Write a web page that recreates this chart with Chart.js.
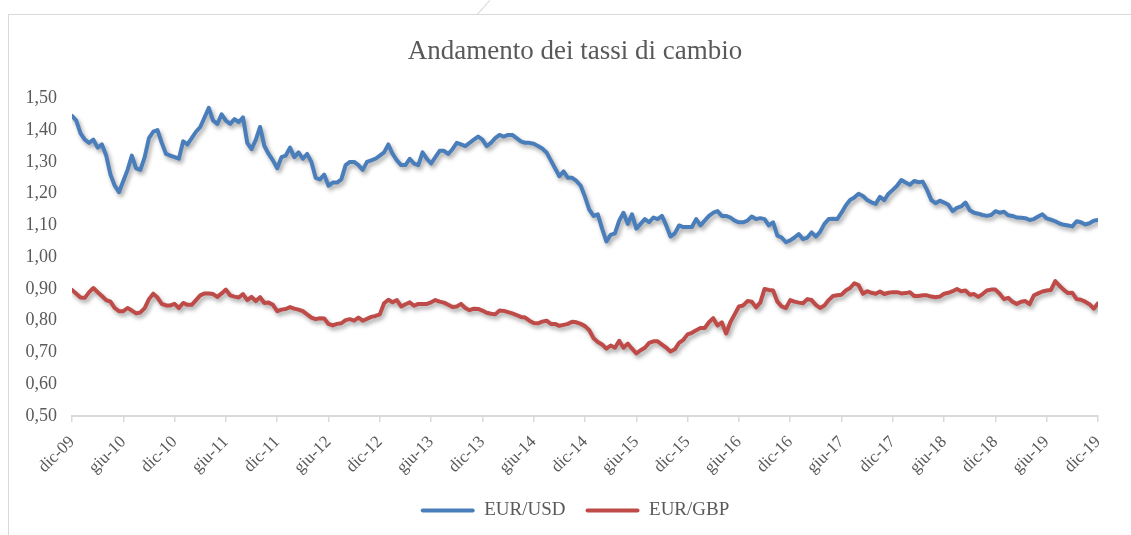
<!DOCTYPE html>
<html>
<head>
<meta charset="utf-8">
<title>Andamento dei tassi di cambio</title>
<script src="https://cdn.jsdelivr.net/npm/chart.js@4.4.1/dist/chart.umd.min.js"></script>
<style>
  html, body { margin: 0; padding: 0; background: #fff; overflow: hidden; }
  #frame { position: absolute; left: 8px; top: 14px; width: 1200px; height: 600px;
           border-left: 1px solid #d9d9d9; border-top: 1px solid #d9d9d9; }
  #notch { position: absolute; left: 474px; top: 7px; width: 19px; height: 1px;
           background: #d9d9d9; transform: rotate(-48deg); }
  #wrap { position: absolute; left: 0; top: 0; width: 1150px; height: 535px; }
</style>
</head>
<body>
<div id="frame"></div>
<div id="notch"></div>
<div id="wrap"><canvas id="chart"></canvas></div>
<script>
// tick labels, one every 6 months (data is semi-monthly, 12 points per label)
const tickLabels = ['dic-09', 'giu-10', 'dic-10', 'giu-11', 'dic-11', 'giu-12', 'dic-12',
  'giu-13', 'dic-13', 'giu-14', 'dic-14', 'giu-15', 'dic-15', 'giu-16', 'dic-16',
  'giu-17', 'dic-17', 'giu-18', 'dic-18', 'giu-19', 'dic-19'];

const seriesNames = ['EUR/USD', 'EUR/GBP'];

// EUR/USD, semi-monthly, dic-09 .. dic-19
const eurUsd = [
  1.445, 1.43, 1.39, 1.37, 1.36, 1.37, 1.345, 1.355, 1.32, 1.26, 1.225, 1.205, 1.24,
  1.275, 1.32, 1.28, 1.275, 1.315, 1.375, 1.395, 1.40, 1.36, 1.325, 1.32, 1.315,
  1.31, 1.365, 1.355, 1.375, 1.395, 1.41, 1.44, 1.47, 1.43, 1.42, 1.45, 1.43,
  1.42, 1.435, 1.425, 1.44, 1.36, 1.34, 1.37, 1.41, 1.35, 1.325, 1.305, 1.28,
  1.315, 1.32, 1.345, 1.315, 1.33, 1.31, 1.325, 1.30, 1.25, 1.245, 1.26, 1.225,
  1.235, 1.235, 1.245, 1.29, 1.30, 1.30, 1.29, 1.275, 1.30, 1.305, 1.31, 1.32,
  1.33, 1.355, 1.325, 1.305, 1.29, 1.29, 1.31, 1.295, 1.29, 1.33, 1.31, 1.295,
  1.315, 1.335, 1.335, 1.325, 1.34, 1.36, 1.355, 1.35, 1.36, 1.37, 1.38, 1.37,
  1.35, 1.36, 1.375, 1.385, 1.38, 1.385, 1.385, 1.375, 1.365, 1.36, 1.36, 1.357,
  1.35, 1.342, 1.33, 1.305, 1.28, 1.255, 1.27, 1.25, 1.25, 1.24, 1.225, 1.19,
  1.15, 1.13, 1.135, 1.09, 1.05, 1.07, 1.075, 1.115, 1.14, 1.105, 1.135, 1.09,
  1.105, 1.12, 1.11, 1.125, 1.12, 1.13, 1.10, 1.065, 1.075, 1.10, 1.095, 1.095,
  1.095, 1.12, 1.10, 1.115, 1.13, 1.14, 1.145, 1.13, 1.13, 1.125, 1.115, 1.11,
  1.11, 1.115, 1.128, 1.12, 1.123, 1.12, 1.10, 1.11, 1.068, 1.062, 1.047, 1.053,
  1.062, 1.073, 1.057, 1.062, 1.078, 1.065, 1.08, 1.105, 1.12, 1.121, 1.12, 1.14,
  1.163, 1.18, 1.188, 1.20, 1.193, 1.18, 1.173, 1.168, 1.19, 1.18, 1.20, 1.212,
  1.225, 1.243, 1.235, 1.228, 1.24, 1.236, 1.238, 1.212, 1.18, 1.17, 1.178, 1.172,
  1.165, 1.145, 1.155, 1.16, 1.172, 1.148, 1.14, 1.137, 1.133, 1.13, 1.133, 1.145,
  1.14, 1.143, 1.132, 1.13, 1.125, 1.124, 1.123, 1.117, 1.12, 1.128, 1.135, 1.122,
  1.118, 1.113, 1.106, 1.102, 1.10, 1.097, 1.113, 1.11, 1.103, 1.107, 1.115, 1.117
];

// EUR/GBP, same dates
const eurGbp = [
  0.897, 0.885, 0.873, 0.872, 0.89, 0.903, 0.89, 0.878, 0.865, 0.86, 0.84, 0.83, 0.83,
  0.84, 0.832, 0.823, 0.826, 0.84, 0.868, 0.885, 0.873, 0.853, 0.848, 0.848, 0.853,
  0.84, 0.856, 0.85, 0.85, 0.865, 0.88, 0.886, 0.886, 0.884, 0.875, 0.886, 0.898,
  0.88, 0.876, 0.873, 0.884, 0.865, 0.875, 0.862, 0.874, 0.856, 0.857, 0.85, 0.83,
  0.835, 0.837, 0.843, 0.838, 0.835, 0.83, 0.82, 0.81, 0.805, 0.808, 0.807, 0.79,
  0.785, 0.79, 0.792, 0.802, 0.805, 0.80, 0.81, 0.80, 0.806, 0.812, 0.815, 0.82,
  0.855, 0.866, 0.858, 0.865, 0.845, 0.852, 0.858, 0.847, 0.853, 0.853, 0.853, 0.858,
  0.865, 0.86, 0.857, 0.85, 0.843, 0.845, 0.853, 0.84, 0.833, 0.838, 0.837, 0.832,
  0.825, 0.822, 0.82, 0.832, 0.831, 0.827, 0.823, 0.818, 0.812, 0.81, 0.80, 0.793,
  0.792, 0.797, 0.80, 0.79, 0.79, 0.784, 0.787, 0.79, 0.797, 0.795, 0.79, 0.783,
  0.77, 0.745, 0.733, 0.725, 0.712, 0.722, 0.715, 0.737, 0.715, 0.728, 0.712, 0.697,
  0.707, 0.715, 0.73, 0.735, 0.735, 0.725, 0.715, 0.703, 0.71, 0.73, 0.74, 0.757,
  0.762, 0.77, 0.777, 0.777, 0.795, 0.808, 0.785, 0.795, 0.76, 0.795, 0.82, 0.845,
  0.848, 0.862, 0.86, 0.842, 0.857, 0.90, 0.897, 0.895, 0.86, 0.845, 0.84, 0.865,
  0.86, 0.857, 0.855, 0.868, 0.865, 0.85, 0.84, 0.848, 0.865, 0.878, 0.88, 0.882,
  0.895, 0.903, 0.918, 0.912, 0.885, 0.893, 0.888, 0.885, 0.892, 0.884, 0.888, 0.89,
  0.89, 0.886, 0.887, 0.89, 0.878, 0.878, 0.88, 0.88, 0.876, 0.874, 0.876, 0.885,
  0.888, 0.893, 0.90, 0.893, 0.895, 0.882, 0.884, 0.875, 0.884, 0.895, 0.898, 0.898,
  0.885, 0.868, 0.872, 0.86, 0.853, 0.86, 0.862, 0.852, 0.88, 0.886, 0.892, 0.895,
  0.897, 0.925, 0.91, 0.897, 0.887, 0.888, 0.868, 0.866, 0.86, 0.852, 0.838, 0.855
];

const serif = "'Liberation Serif', 'DejaVu Serif', serif";
const textColor = '#595959';
const ptsPerTick = 12;

const toPoints = arr => arr.map((v, i) => ({ x: i, y: v }));

// soft drop shadow under the lines, like the original
const lineShadow = {
  id: 'lineShadow',
  beforeDatasetDraw(chart) {
    const c = chart.ctx;
    c.save();
    c.shadowColor = 'rgba(0,0,0,0.35)';
    c.shadowBlur = 4;
    c.shadowOffsetX = 2;
    c.shadowOffsetY = 3;
  },
  afterDatasetDraw(chart) {
    chart.ctx.restore();
  }
};

new Chart(document.getElementById('chart'), {
  type: 'line',
  data: {
    datasets: [
      {
        label: seriesNames[0],
        data: toPoints(eurUsd),
        borderColor: '#4a7ebb',
        backgroundColor: '#4a7ebb',
        borderWidth: 4,
        pointRadius: 0,
        tension: 0,
        borderJoinStyle: 'round',
        borderCapStyle: 'round'
      },
      {
        label: seriesNames[1],
        data: toPoints(eurGbp),
        borderColor: '#be4b48',
        backgroundColor: '#be4b48',
        borderWidth: 4,
        pointRadius: 0,
        tension: 0,
        borderJoinStyle: 'round',
        borderCapStyle: 'round'
      }
    ]
  },
  options: {
    responsive: true,
    maintainAspectRatio: false,
    animation: false,
    layout: { padding: { left: 0, right: 0, top: 0, bottom: 5 } },
    plugins: {
      title: {
        display: true,
        text: 'Andamento dei tassi di cambio',
        color: textColor,
        font: { family: serif, size: 27, weight: 'normal' },
        padding: { top: 36, bottom: 30 }
      },
      legend: {
        position: 'bottom',
        labels: {
          color: textColor,
          font: { family: serif, size: 19 },
          boxWidth: 54,
          boxHeight: 4,
          padding: 20,
          useBorderRadius: true,
          borderRadius: 2,
          generateLabels: chart =>
            Chart.defaults.plugins.legend.labels.generateLabels(chart)
              .map(l => Object.assign(l, { lineWidth: 0 }))
        }
      },
      tooltip: { enabled: false }
    },
    scales: {
      x: {
        type: 'linear',
        min: 0,
        max: eurUsd.length - 1,
        afterFit: s => { s.height = 65; },
        ticks: {
          stepSize: ptsPerTick,
          autoSkip: false,
          minRotation: 45,
          maxRotation: 45,
          color: textColor,
          font: { family: serif, size: 17 },
          padding: 10,
          callback: v => tickLabels[Math.round(v / ptsPerTick)]
        },
        grid: { display: true, drawOnChartArea: false, tickLength: 6, color: '#d9d9d9', lineWidth: 1.5 },
        border: { display: true, color: '#d9d9d9', width: 2 }
      },
      y: {
        min: 0.5,
        max: 1.5,
        afterFit: s => { s.width = 72; },
        ticks: {
          stepSize: 0.1,
          color: textColor,
          font: { family: serif, size: 18 },
          padding: 15,
          callback: v => v.toFixed(2).replace('.', ',')
        },
        grid: { display: false, drawTicks: false },
        border: { display: false }
      },
      // empty right-hand gutter so the title and legend centre on the whole frame
      gutter: {
        type: 'linear',
        position: 'right',
        afterFit: s => { s.width = 52; },
        ticks: { display: false },
        grid: { display: false, drawTicks: false },
        border: { display: false }
      }
    }
  },
  plugins: [lineShadow]
});
</script>
</body>
</html>
